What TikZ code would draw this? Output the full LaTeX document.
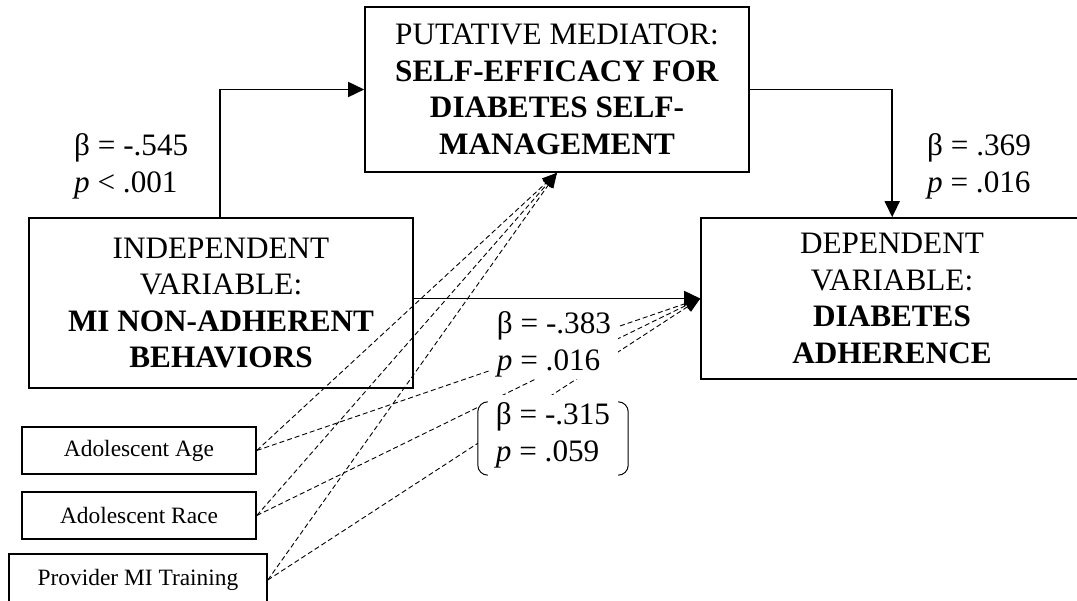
\documentclass[tikz,border=0pt]{standalone}
\usepackage{fontspec}
\setmainfont{Liberation Serif}
\usetikzlibrary{arrows.meta,calc}
\begin{document}
\begin{tikzpicture}[x=1pt,y=-1pt,
  box/.style={draw, line width=1.6pt, align=center, inner sep=0pt, font=\fontsize{31.2}{36.5}\selectfont},
  cov/.style={draw, line width=1.6pt, inner sep=0pt, font=\fontsize{23.4}{27}\selectfont},
  lab/.style={align=left, inner sep=0pt, font=\fontsize{31.2}{37}\selectfont},
  arr/.style={line width=1.6pt, -{Triangle[length=16pt,width=15pt]}},
  darr/.style={line width=0.9pt, dash pattern=on 5pt off 3pt, -{Triangle[length=15pt,width=12pt]}},
  brk/.style={line width=1pt, rounded corners=10pt},
]
\useasboundingbox (0,0) rectangle (1077,601);
\clip (0,0) rectangle (1077,601);

\node[box, minimum width=384pt, minimum height=165pt] (med) at (557,89.5)
  {PUTATIVE MEDIATOR:\\\textbf{SELF-EFFICACY FOR}\\\textbf{DIABETES SELF-}\\\textbf{MANAGEMENT}};
\node[box, minimum width=384pt, minimum height=170pt] (iv) at (221,303)
  {INDEPENDENT\\VARIABLE:\\\textbf{MI NON-ADHERENT}\\\textbf{BEHAVIORS}};
\node[box, minimum width=382pt, minimum height=161pt] (dv) at (892,298.5)
  {DEPENDENT\\VARIABLE:\\\textbf{DIABETES}\\\textbf{ADHERENCE}};
\node[cov, minimum width=234pt, minimum height=47pt] (age) at (139,450.5) {Adolescent Age};
\node[cov, minimum width=234pt, minimum height=47pt] (race) at (139,515.5) {Adolescent Race};
\node[cov, minimum width=258pt, minimum height=52pt] (prov) at (138,580) {Provider MI Training};

% solid paths
\draw[arr] ($(iv.north west)+(192,0)$) |- (med.west);
\draw[arr] (med.east) -| ($(dv.north west)+(192,0)$);
\draw[arr] (iv.east |- dv.west) -- (dv.west);

% dashed covariate paths
\draw[darr] (age.east) -- (med.south);
\draw[darr] (race.east) -- (med.south);
\draw[darr] (prov.east) -- (med.south);
\draw[darr] (age.east) -- (dv.west);
\draw[darr] (race.east) -- (dv.west);
\draw[darr] (prov.east) -- (dv.west);

% labels
\node[lab, anchor=west] (l1) at (74,166) {β = -.545\\\textit{p} < .001};
\node[lab, anchor=west] (l2) at (927,166) {β = .369\\\textit{p} = .016};
\node[lab, fill=white, minimum width=128pt, minimum height=70pt] (l3) at (554,344) {β = -.383\\\textit{p} = .016};
\node[lab, fill=white, minimum width=150pt, minimum height=80pt] (l4) at (553,435) {β = -.315\\\textit{p} = .059};
\draw[brk] ($(l4.north west)+(10,7)$) -- ($(l4.north west)+(0,7)$) -- ($(l4.south west)+(0,0)$) -- ($(l4.south west)+(10,0)$);
\draw[brk] ($(l4.north east)+(-10,7)$) -- ($(l4.north east)+(0,7)$) -- ($(l4.south east)+(0,0)$) -- ($(l4.south east)+(-10,0)$);
\end{tikzpicture}
\end{document}
